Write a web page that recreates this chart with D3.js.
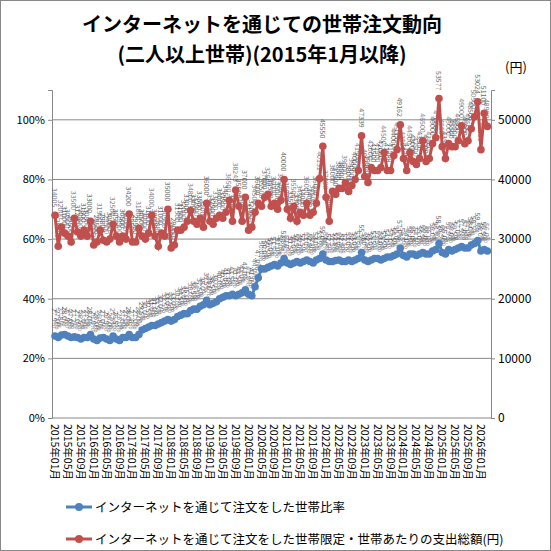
<!DOCTYPE html><html><head><meta charset="utf-8"><script src="https://cdn.jsdelivr.net/npm/d3@7"></script>
<style>body{margin:0;background:#fff}text{font-family:"Noto Sans CJK JP","Noto Sans",sans-serif}</style></head><body>
<svg id="c" width="551" height="551"></svg>
<script>
const startYear=2015;
const ratio=[27.5,27,27.8,28,27.5,27,27.2,27,26.5,27,27,28,
26.5,26,26.8,27,26.5,26,27.5,26.5,26,27,27,28,
27,27,28,29.5,30,30.5,31,31,31.5,32,32.5,33,
32.5,33,34,34.5,35,35,36,36.5,36.5,37.5,38,39.5,
38,38.5,39,40,40.5,41,41,41.5,41,41.5,42,43,
41.5,41,44,47,50,50,50.5,51,51.5,51,52,53.5,
52,51.5,52,52.5,52,52.5,53,52.5,52,53,53.5,55,
53,52.5,52.5,52.8,53,52.5,52.5,53,52.5,53,53.5,55.5,
53,52.5,53,53.5,53.5,53,53.5,54,54,54.5,55,57,
54.5,54,55,55,54.5,55,55.5,55,55,56,56.5,58.5,
55.5,55,56.5,56,56.5,57,57.5,57,57,58,58.5,59.5,
56,56.5,56];
const spend=[34005,28800,32000,31000,30500,29500,33500,31200,30500,31500,30500,33000,
29000,29500,31500,29800,29500,30000,32500,30500,29500,30500,30000,34200,
29500,29500,31800,30500,30000,31000,34000,30500,28800,31000,30500,35000,
28500,29000,31500,31500,32000,33000,34800,33000,32500,33500,32000,36000,
33000,32500,33500,34000,33500,34500,36500,33000,38243,35500,33000,37000,
31500,32000,34500,36000,35500,37000,37500,35500,36000,35000,36500,40000,
35000,33500,35500,33000,34500,34000,36000,34000,34500,36000,40131,45550,
37000,33000,38000,37500,38500,38500,39500,38000,39000,40000,41500,47339,
40500,39500,42000,41500,41500,42000,44500,41500,41500,44000,45000,49162,
43500,41500,44500,43000,42500,43500,46500,43000,43500,46000,47000,53577,
45500,43500,46000,45500,45500,46500,49000,46000,46500,48500,50500,53024,
45000,51100,48900];
const months=ratio.map((_,i)=>({y:startYear+Math.floor(i/12),m:i%12+1}));
const tickIdx=months.map((d,i)=>i).filter(i=>i%4===0);
const leftTicks=[0,20,40,60,80,100], rightTicks=[0,10000,20000,30000,40000,50000];
const svg=d3.select("#c");
svg.append("rect").attr("x",0.5).attr("y",0.5).attr("width",550).attr("height",550).attr("fill","#fff").attr("stroke","#888");
svg.append("text").attr("x",262).attr("y",32).attr("text-anchor","middle").attr("font-size",20).attr("font-weight","bold").text("インターネットを通じての世帯注文動向");
svg.append("text").attr("x",262).attr("y",62).attr("text-anchor","middle").attr("font-size",20).attr("font-weight","bold").text("(二人以上世帯)(2015年1月以降)");
const L=52,R=491,T=90,B=418;
const x=d3.scaleLinear().domain([0,134.5]).range([L+3,R-2]);
const yl=d3.scaleLinear().domain([0,110]).range([B,T]);
const yr=d3.scaleLinear().domain([0,55000]).range([B,T]);
svg.append("g").selectAll("line").data(leftTicks.slice(1)).join("line").attr("x1",L).attr("x2",R).attr("y1",d=>yl(d)).attr("y2",d=>yl(d)).attr("stroke","#888");
svg.append("g").attr("transform",`translate(${L},0)`).call(d3.axisLeft(yl).tickValues(leftTicks).tickFormat(d=>d+"%").tickSize(4)).call(g=>{g.selectAll("text").attr("font-size",11).attr("font-family","Noto Sans");g.selectAll("path,line").attr("stroke","#888")});
svg.append("g").attr("transform",`translate(${R},0)`).call(d3.axisRight(yr).tickValues(rightTicks).tickFormat(d3.format("d")).tickSize(4)).call(g=>{g.selectAll("text").attr("font-size",12).attr("font-family","Noto Sans");g.selectAll("path,line").attr("stroke","#888")});
svg.append("line").attr("x1",L).attr("x2",R).attr("y1",B).attr("y2",B).attr("stroke","#888");
svg.append("text").attr("x",505).attr("y",72).attr("font-size",13).text("(円)");
const xl=svg.append("g");
tickIdx.forEach(i=>{const d=months[i];xl.append("text").attr("transform",`translate(${x(i)-4},${424}) rotate(90)`).attr("font-size",10.5).text(`${d.y}年${String(d.m).padStart(2,"0")}月`);});
function series(vals,y,color,fmt){
 const lab=svg.append("g");
 vals.forEach((v,i)=>lab.append("text").attr("transform",`translate(${x(i)-3},${y(v)-8}) rotate(90)`).attr("text-anchor","end").attr("font-size",7).attr("fill",i%2?"#333":"#556").attr("opacity",0.75).text(fmt(v)));
 svg.append("path").datum(vals).attr("d",d3.line().x((d,i)=>x(i)).y(d=>y(d))).attr("fill","none").attr("stroke",color).attr("stroke-width",3);
 svg.append("g").selectAll("circle").data(vals).join("circle").attr("cx",(d,i)=>x(i)).attr("cy",d=>y(d)).attr("r",3.8).attr("fill",color);
}
series(ratio,yl,"#4f81bd",v=>v.toFixed(1)+"%");
series(spend,yr,"#c0504d",v=>String(v));
const lg=[["インターネットを通じて注文をした世帯比率","#4f81bd"],["インターネットを通じて注文をした世帯限定・世帯あたりの支出総額(円)","#c0504d"]];
lg.forEach((d,i)=>{const yy=507+i*32;svg.append("line").attr("x1",66).attr("x2",92).attr("y1",yy).attr("y2",yy).attr("stroke",d[1]).attr("stroke-width",3);svg.append("circle").attr("cx",79).attr("cy",yy).attr("r",4).attr("fill",d[1]);svg.append("text").attr("x",95).attr("y",yy+5).attr("font-size",12.5).text(d[0]);});
</script></body></html>
